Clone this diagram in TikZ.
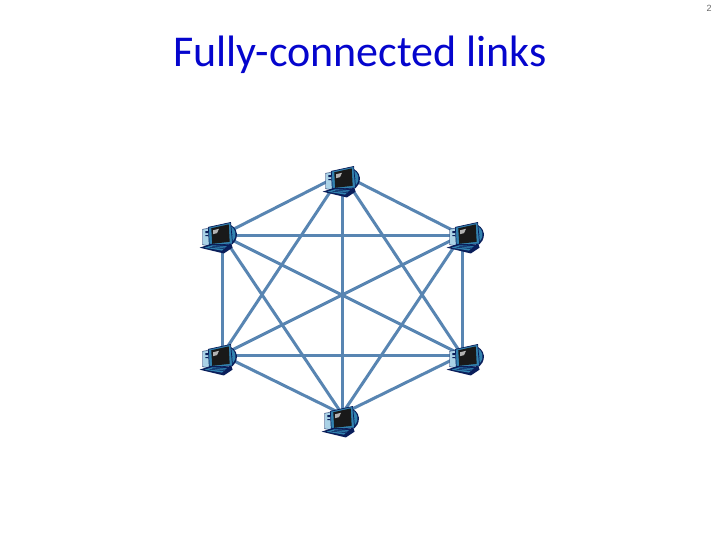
\documentclass[tikz,border=0pt]{standalone}
\usepackage{fontspec}
\setmainfont{Carlito}
\newfontfamily\numfont{Liberation Sans}
\usepackage{tikz}
\usetikzlibrary{positioning,backgrounds}
\definecolor{linkblue}{RGB}{88,133,178}
\definecolor{titleblue}{RGB}{5,5,205}
\definecolor{pcnavy}{RGB}{10,30,90}
\definecolor{pcteal}{RGB}{50,130,175}
\definecolor{pcpale}{RGB}{170,210,230}
\tikzset{
  link/.style={draw=linkblue,line width=3pt},
  hub/.style={inner sep=0pt,minimum size=1pt},
  pc/.pic={
    % tower
    \fill[pcpale,draw=pcnavy,line width=.4pt] (-17,-8) -- (-10,-9) -- (-10,9) -- (-17,8) -- cycle;
    \fill[pcnavy] (-14,-6) rectangle (-11,-4) (-14,-2) rectangle (-11,-1);
    % arc behind the monitor
    \fill[pcnavy] (7,-14) .. controls (21,-12) and (22,4) .. (11,9) -- (9,5) .. controls (15,1) and (14,-8) .. (7,-10) -- cycle;
    \fill[pcteal] (10,-12) .. controls (19,-9) and (19,2) .. (12,6) -- (11,4) .. controls (15,0) and (15,-6) .. (9,-9) -- cycle;
    % monitor
    \fill[pcteal,draw=pcnavy,line width=.7pt] (-11,-10) -- (12,-15) -- (14,7) -- (-10,9) -- cycle;
    \fill[black!90] (-8,-9) -- (10,-13) -- (11,5) -- (-7,7) -- cycle;
    \fill[gray!60] (-6,-7) -- (0,-8.5) -- (-2,-4) -- (-6,-3) -- cycle;
    % keyboard
    \fill[pcnavy] (-20,11) -- (-8,7) -- (13,8) -- (14,11) -- (5,17) -- cycle;
    \fill[pcteal] (-15,11) -- (-7,8.5) -- (8,9.5) -- (3,14) -- cycle;
    \draw[pcnavy,line width=.5pt] (-10,10.5) -- (5,12) (-7,9.5) -- (7,10.5);
  }
}
\begin{document}
\begin{tikzpicture}[x=1pt,y=-1pt]
  \useasboundingbox (0,0) rectangle (720,540);
  \node[font=\fontsize{44}{52}\selectfont,text=titleblue,inner sep=0pt] (title) at (360,55) {Fully-connected links};
  \node[font=\numfont\fontsize{9}{10}\selectfont,text=black!60,inner sep=0pt] (page) at (709,8) {2};
  \node[hub] (top) at (342,174) {};
  \node[hub] (ur) at (462,235) {};
  \node[hub] (lr) at (462,355) {};
  \node[hub] (bot) at (342,414) {};
  \node[hub] (ll) at (222,355) {};
  \node[hub] (ul) at (222,235) {};
  \foreach \a/\others in {top/{ur,lr,bot,ll,ul},ur/{lr,bot,ll,ul},lr/{bot,ll,ul},bot/{ll,ul},ll/{ul}}
    \foreach \b in \others
      \draw[link] (\a) -- (\b);
  \foreach \n/\dx/\dy in {top/0/7,ur/4/2,lr/4/4,bot/-1/7,ll/-3/4,ul/-3/2}
    \pic[scale=.97] at ([shift={(\dx pt,-\dy pt)}]\n) {pc};
\end{tikzpicture}
\end{document}
